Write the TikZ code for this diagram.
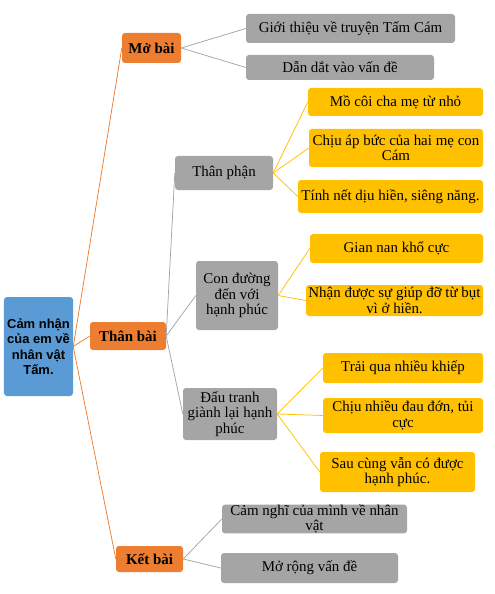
\documentclass[tikz,border=0pt]{standalone}
\usepackage{fontspec}
\setmainfont{Liberation Serif}
\newfontfamily\rootfont{Liberation Sans}
\definecolor{rootblue}{HTML}{5B9BD5}
\definecolor{partorange}{HTML}{ED7D31}
\definecolor{itemgray}{HTML}{A5A5A5}
\definecolor{itemyellow}{HTML}{FFC000}
\begin{document}
\begin{tikzpicture}[x=1bp, y=-1bp,
  box/.style={rectangle, rounded corners=3bp, inner sep=0pt, align=center,
    font=\fontsize{15}{15.5}\selectfont},
  rootbox/.style={box, fill=rootblue, font=\rootfont\bfseries\fontsize{13}{15.5}\selectfont},
  partbox/.style={box, fill=partorange, font=\bfseries\fontsize{15}{15.5}\selectfont},
  graybox/.style={box, fill=itemgray},
  yellowbox/.style={box, fill=itemyellow},
  orangeline/.style={draw=partorange, line width=0.75bp},
  grayline/.style={draw=itemgray, line width=0.75bp},
  yellowline/.style={draw=itemyellow, line width=0.75bp}]
\useasboundingbox (0,0) rectangle (495,594);
% root and parts
\node[rootbox, minimum width=69bp, minimum height=99bp] (root) at (38.5,346.5) {Cảm nhận\\của em về\\nhân vật\\Tấm.};
\node[partbox, minimum width=59bp, minimum height=30bp] (mo) at (151.5,48) {Mở bài};
\node[partbox, minimum width=76bp, minimum height=28bp] (than) at (128,336) {Thân bài};
\node[partbox, minimum width=67bp, minimum height=26bp] (ket) at (149.5,559) {Kết bài};
% mo bai
\node[graybox, minimum width=209bp, minimum height=29bp] (gioithieu) at (350.5,28.5) {Giới thiệu về truyện Tấm Cám};
\node[graybox, minimum width=188bp, minimum height=25bp] (dandat) at (340,67.5) {Dẫn dắt vào vấn đề};
% than bai
\node[graybox, minimum width=98bp, minimum height=34bp] (thanphan) at (224,173) {Thân phận};
\node[graybox, minimum width=82bp, minimum height=69bp] (conduong) at (237,295.5) {Con đường\\đến với\\hạnh phúc};
\node[graybox, minimum width=94bp, minimum height=52bp] (dautranh) at (230,414) {Đấu tranh\\giành lại hạnh\\phúc};
\node[yellowbox, minimum width=175bp, minimum height=28bp] (mocoi) at (395.5,102) {Mồ côi cha mẹ từ nhỏ};
\node[yellowbox, minimum width=174bp, minimum height=38bp] (chiuap) at (396,148) {Chịu áp bức của hai mẹ con\\Cám};
\node[yellowbox, minimum width=185bp, minimum height=33bp] (tinhnet) at (390.5,196.5) {Tính nết dịu hiền, siêng năng.};
\node[yellowbox, minimum width=173bp, minimum height=29bp] (giannan) at (396.5,248.5) {Gian nan khổ cực};
\node[yellowbox, minimum width=177bp, minimum height=31bp] (nhanduoc) at (394.5,300.5) {Nhận được sự giúp đỡ từ bụt\\vì ở hiền.};
\node[yellowbox, minimum width=160bp, minimum height=30bp] (traiqua) at (403,368) {Trải qua nhiều khiếp};
\node[yellowbox, minimum width=160bp, minimum height=35bp] (chiunhieu) at (403,415.5) {Chịu nhiều đau đớn, tủi\\cực};
\node[yellowbox, minimum width=155bp, minimum height=40bp] (saucung) at (397.5,472) {Sau cùng vẫn có được\\hạnh phúc.};
% ket bai
\node[graybox, minimum width=185bp, minimum height=28bp] (camnghi) at (314.5,519) {Cảm nghĩ của mình về nhân\\vật};
\node[graybox, minimum width=177bp, minimum height=30bp] (morong) at (309.5,568) {Mở rộng vấn đề};
% connectors
\draw[orangeline] (root.east) -- (mo.west);
\draw[orangeline] (root.east) -- (than.west);
\draw[orangeline] (root.east) -- (ket.west);
\draw[grayline] (mo.east) -- (gioithieu.west);
\draw[grayline] (mo.east) -- (dandat.west);
\draw[grayline] (than.east) -- (thanphan.west);
\draw[grayline] (than.east) -- (conduong.west);
\draw[grayline] (than.east) -- (dautranh.west);
\draw[grayline] (ket.east) -- (camnghi.west);
\draw[grayline] (ket.east) -- (morong.west);
\draw[yellowline] (thanphan.east) -- (mocoi.west);
\draw[yellowline] (thanphan.east) -- (chiuap.west);
\draw[yellowline] (thanphan.east) -- (tinhnet.west);
\draw[yellowline] (conduong.east) -- (giannan.west);
\draw[yellowline] (conduong.east) -- (nhanduoc.west);
\draw[yellowline] (dautranh.east) -- (traiqua.west);
\draw[yellowline] (dautranh.east) -- (chiunhieu.west);
\draw[yellowline] (dautranh.east) -- (saucung.west);
\end{tikzpicture}
\end{document}
